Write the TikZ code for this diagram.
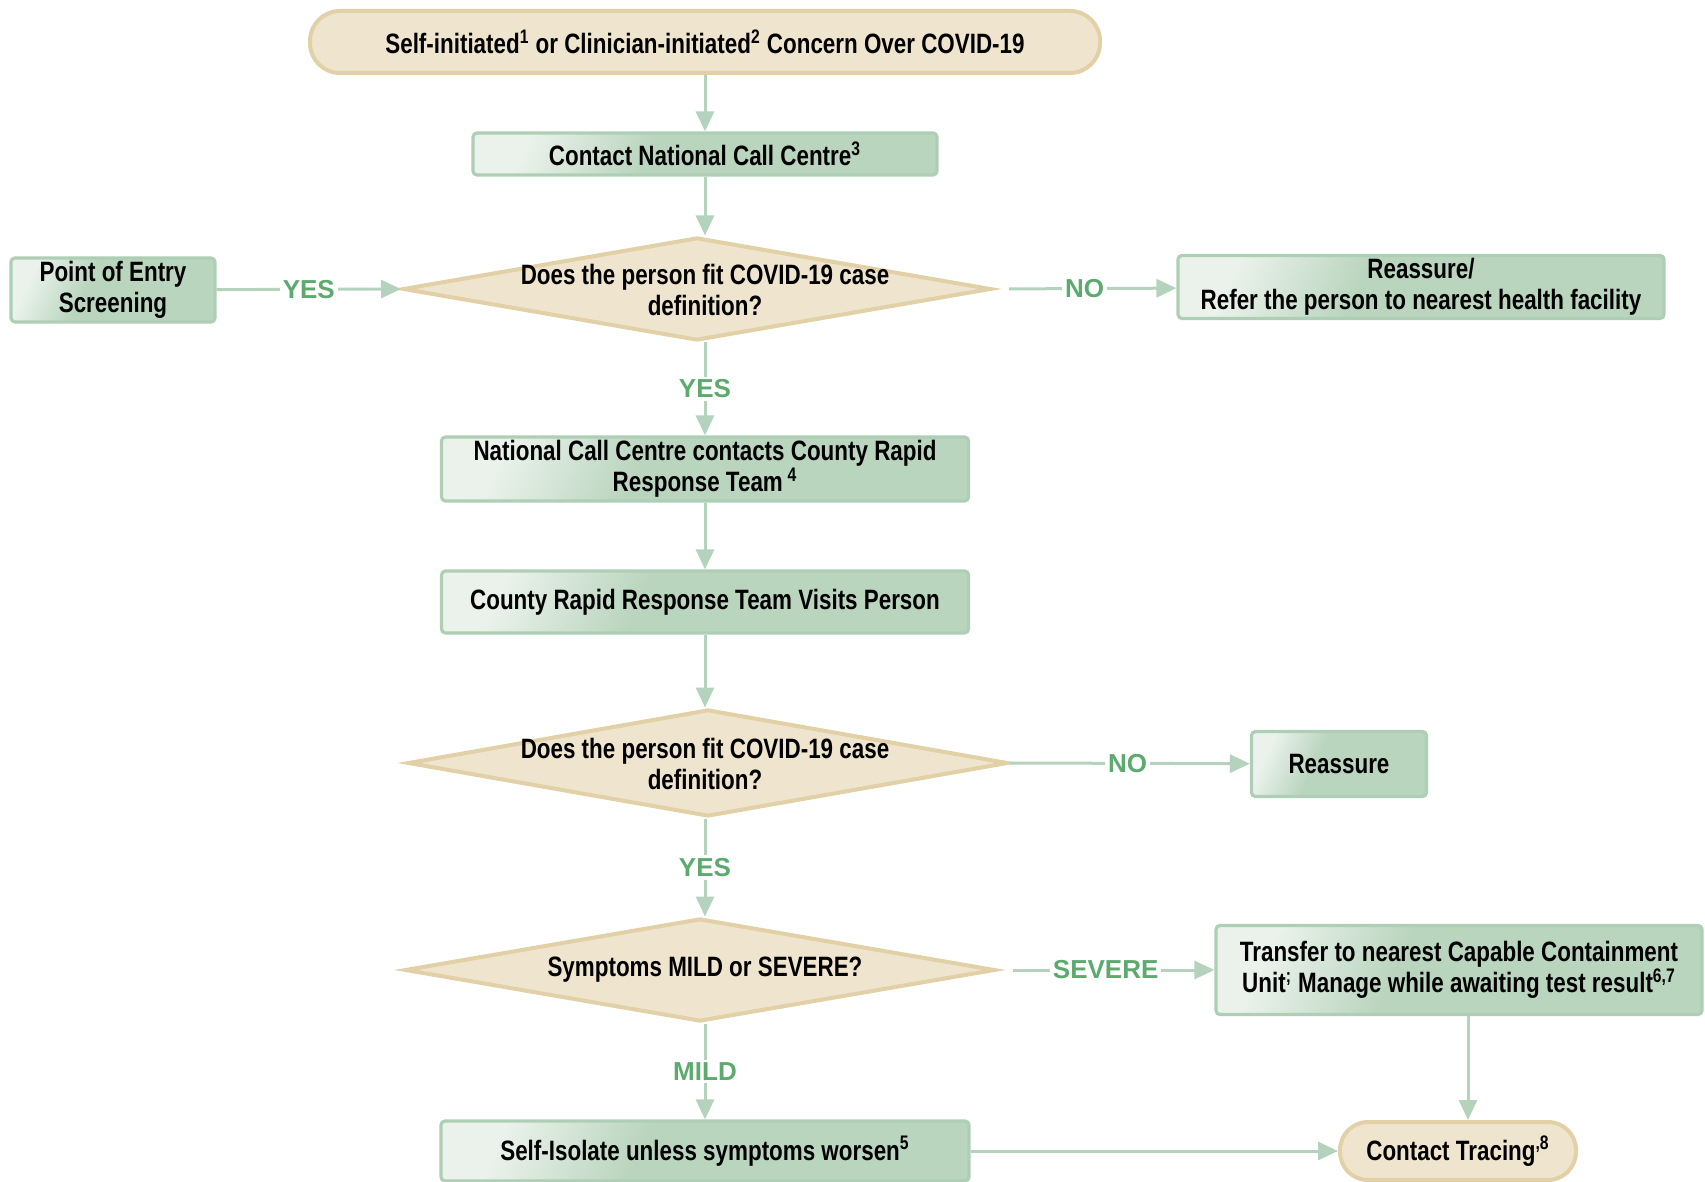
\documentclass[tikz,border=0pt]{standalone}
\usepackage{fontspec}
\setmainfont[FakeStretch=0.8]{Liberation Sans}
\newfontfamily\lblfont{Liberation Sans}
\usetikzlibrary{shapes.geometric,arrows.meta,calc}
\definecolor{gd}{HTML}{BAD5BE}
\definecolor{gl}{HTML}{EAF2EB}
\definecolor{gb}{HTML}{AFCEB6}
\definecolor{tf}{HTML}{EFE4CE}
\definecolor{tb}{HTML}{E2D0A6}
\definecolor{lg}{HTML}{5DAA6E}
\definecolor{ar}{HTML}{B5D3BC}
\pgfdeclarehorizontalshading{gboxshade}{100bp}{color(0bp)=(gl); color(25bp)=(gl); color(42bp)=(gd); color(100bp)=(gd)}
\newcommand{\bodyfnt}{\bfseries\fontsize{14}{15.5}\selectfont}
\begin{document}
\begin{tikzpicture}[x=0.5pt,y=-0.5pt,
  gbox/.style={draw=gb, line width=1.6pt, shade, shading=gboxshade, shading angle=-25,
    align=center, font=\bodyfnt, inner sep=0pt, rounded corners=2pt},
  tbox/.style={draw=tb, fill=tf, line width=2pt, align=center, font=\bodyfnt, inner sep=0pt},
  dia/.style={diamond, draw=tb, fill=tf, line width=2pt, inner sep=0pt},
  txt/.style={align=center, font=\bodyfnt, inner sep=0pt},
  lbl/.style={fill=white, text=lg, font=\lblfont\bfseries\fontsize{13}{13}\selectfont, inner sep=1.5pt},
  conn/.style={draw=ar, line width=1.5pt, -{Triangle[length=10pt,width=9pt]}}]
\useasboundingbox (0,0) rectangle (1705,1182);

% nodes
\node[tbox, rounded corners=15pt, minimum width=395pt, minimum height=31pt] (top) at (705,42)
  {Self-initiated\textsuperscript{1} or Clinician-initiated\textsuperscript{2} Concern Over COVID-19};
\node[gbox, minimum width=232pt, minimum height=21pt] (ncc) at (705,154)
  {Contact National Call Centre\textsuperscript{3}};
\node[dia, minimum width=294pt, minimum height=51.5pt] (d1) at (697,289) {};
\node[txt] (d1t) at (705,290) {Does the person fit COVID-19 case\\definition?};
\node[gbox, minimum width=102pt, minimum height=32pt] (poe) at (113,290)
  {Point of Entry\\Screening};
\node[gbox, minimum width=243pt, minimum height=31.5pt] (rr) at (1421,287)
  {Reassure/\\Refer the person to nearest health facility};
\node[gbox, minimum width=263.5pt, minimum height=32pt] (nccc) at (705,469)
  {National Call Centre contacts County Rapid\\Response Team\,\textsuperscript{4}};
\node[gbox, minimum width=263.5pt, minimum height=31pt] (visit) at (705,602)
  {County Rapid Response Team Visits Person};
\node[dia, minimum width=300pt, minimum height=53.5pt] (d2) at (708,763) {};
\node[txt] (d2t) at (705,764) {Does the person fit COVID-19 case\\definition?};
\node[gbox, minimum width=87.5pt, minimum height=32.5pt] (re) at (1339,764) {Reassure};
\node[dia, minimum width=295pt, minimum height=51.5pt] (d3) at (700,970) {};
\node[txt] (d3t) at (705,970) {Symptoms MILD or SEVERE?};
\node[gbox, minimum width=243pt, minimum height=44.5pt] (tr) at (1459,970)
  {Transfer to nearest Capable Containment\\Unit\textsuperscript{;} Manage while awaiting test result\textsuperscript{6,7}};
\node[gbox, minimum width=264pt, minimum height=30pt] (si) at (705,1151)
  {Self-Isolate unless symptoms worsen\textsuperscript{5}};
\node[tbox, rounded corners=14pt, minimum width=118pt, minimum height=29pt] (ct) at (1458,1151)
  {Contact Tracing\textsuperscript{,8}};
\coordinate (ctn) at ($(ct.north)+(10,0)$);

% connectors
\draw[conn] (top) -- (ncc);
\draw[conn] (ncc) -- (ncc |- d1.north);
\draw[conn] (poe) -- node[lbl]{YES} (d1.west);
\draw[conn, shorten <=8pt] (d1.east) -- node[lbl]{NO} (rr);
\draw[conn] (d1.south -| nccc) -- node[lbl]{YES} (nccc);
\draw[conn] (nccc) -- (visit);
\draw[conn] (visit) -- (visit |- d2.north);
\draw[conn] (d2.east) -- node[lbl, pos=0.49]{NO} (re);
\draw[conn] (d2.south -| si) -- node[lbl]{YES} (d3.north -| si);
\draw[conn, shorten <=8pt] (d3.east) -- node[lbl]{SEVERE} (tr);
\draw[conn] (d3.south -| si) -- node[lbl]{MILD} (si);
\draw[conn] (ctn |- tr.south) -- (ctn);
\draw[conn] (si) -- (ct);
\end{tikzpicture}
\end{document}
